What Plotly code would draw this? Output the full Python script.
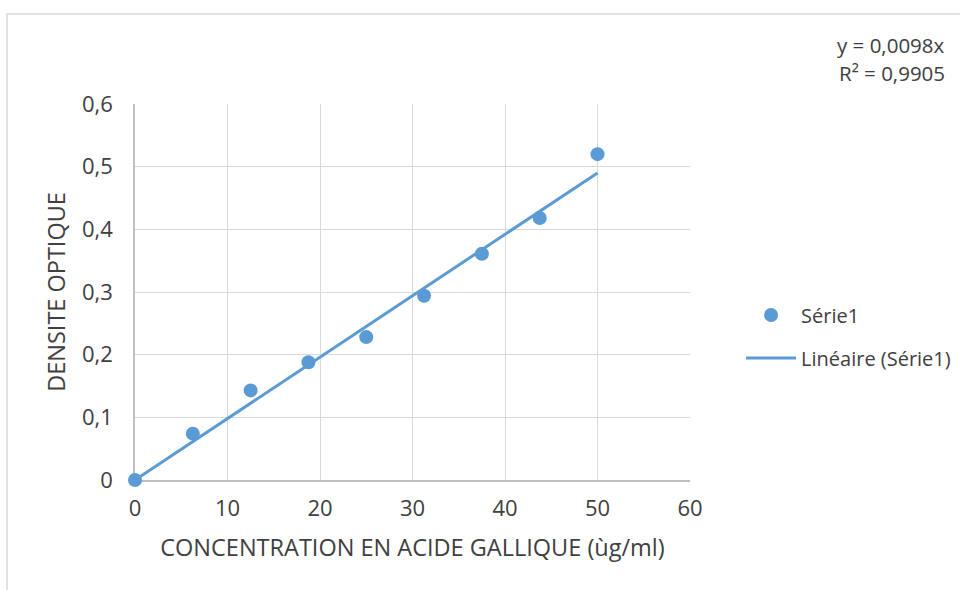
import plotly.graph_objects as go

# Data
concentration = [0, 6.25, 12.5, 18.75, 25, 31.25, 37.5, 43.75, 50]
densite = [0, 0.074, 0.143, 0.188, 0.228, 0.294, 0.361, 0.418, 0.520]
trend_x = [0, 50]
trend_y = [0, 0.49]
x_ticks = [0, 10, 20, 30, 40, 50, 60]
y_ticks = [0, 0.1, 0.2, 0.3, 0.4, 0.5, 0.6]
y_ticklabels = ["0", "0,1", "0,2", "0,3", "0,4", "0,5", "0,6"]

BLUE = "#5B9BD5"
FONT = "Open Sans, sans-serif"
TXT = "#404040"

fig = go.Figure()
fig.add_trace(go.Scatter(
    x=concentration, y=densite, mode="markers", name="Série1",
    marker=dict(color=BLUE, size=14), legendgroup="a", cliponaxis=False))
fig.add_trace(go.Scatter(
    x=trend_x, y=trend_y, mode="lines", name="Linéaire (Série1)",
    line=dict(color=BLUE, width=3), legendgroup="b", cliponaxis=False))

fig.update_layout(
    width=960, height=590,
    margin=dict(l=135, r=270, t=104, b=110, autoexpand=False),
    paper_bgcolor="white", plot_bgcolor="white",
    font=dict(family=FONT, color=TXT, size=22),
    showlegend=True,
    legend=dict(x=1.092, y=0.3816, yanchor="middle", xanchor="left",
                font=dict(size=20, color=TXT), traceorder="grouped",
                tracegroupgap=14, itemwidth=50),
    xaxis=dict(range=[0, 60], tickvals=x_ticks, showgrid=True,
               gridcolor="#D9D9D9", gridwidth=1, zeroline=False,
               showline=True, linecolor="#BFBFBF", linewidth=1.5,
               layer="below traces",
               ticks="", ticklabelstandoff=8, tickfont=dict(size=22),
               title=dict(text="CONCENTRATION EN ACIDE GALLIQUE (ùg/ml)",
                          font=dict(size=23.5, color=TXT), standoff=18)),
    yaxis=dict(range=[0, 0.6], tickvals=y_ticks, ticktext=y_ticklabels,
               showgrid=True, gridcolor="#D9D9D9", gridwidth=1, zeroline=False,
               showline=True, linecolor="#BFBFBF", linewidth=1.5,
               layer="below traces",
               ticks="", ticklabelstandoff=16, tickfont=dict(size=22),
               title=dict(text="DENSITE OPTIQUE",
                          font=dict(size=23.5, color=TXT), standoff=10)),
)

# Chart border
fig.add_shape(type="rect", xref="paper", yref="paper",
              x0=-0.2306, x1=2, y0=-1, y1=1.2394,
              line=dict(color="#D9D9D9", width=1.5), layer="below")

# Trendline equation
fig.add_annotation(xref="paper", yref="paper", x=1.463, y=1.157,
                   xanchor="right", yanchor="middle", showarrow=False,
                   text="y = 0,0098x", font=dict(size=20.5, color=TXT))
fig.add_annotation(xref="paper", yref="paper", x=1.463, y=1.0824,
                   xanchor="right", yanchor="middle", showarrow=False,
                   text="R² = 0,9905", font=dict(size=20.5, color=TXT))

fig.write_html("out.html", config={"displayModeBar": False},
               post_script="document.body.style.margin='0';document.body.style.padding='0';")
